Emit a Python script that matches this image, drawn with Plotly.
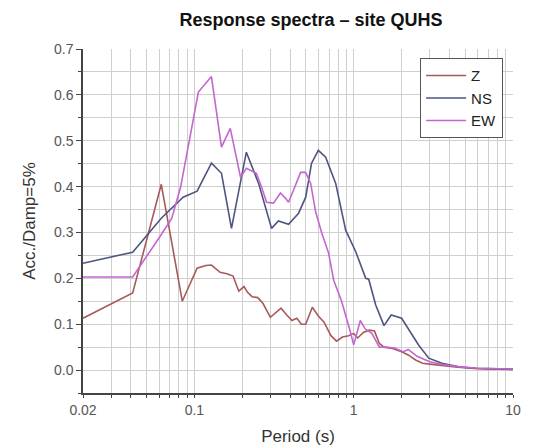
import plotly.graph_objects as go

# Periods (s) and spectral values
z_period = [0.02, 0.041, 0.062, 0.084, 0.104, 0.118, 0.128, 0.145, 0.16, 0.175, 0.19, 0.205,
            0.215, 0.23, 0.25, 0.27, 0.3, 0.325, 0.35, 0.38, 0.41, 0.44, 0.47, 0.5, 0.55,
            0.6, 0.65, 0.72, 0.78, 0.85, 0.93, 1.0, 1.06, 1.15, 1.25, 1.35, 1.45, 1.55,
            1.75, 2.0, 2.2, 2.45, 2.7, 3.0, 3.6, 4.5, 6.0, 8.0, 10.0]
z_acc = [0.113, 0.168, 0.405, 0.15, 0.222, 0.228, 0.229, 0.213, 0.21, 0.205, 0.172, 0.182,
         0.17, 0.16, 0.158, 0.145, 0.115, 0.125, 0.135, 0.12, 0.108, 0.113, 0.1, 0.1, 0.137,
         0.118, 0.105, 0.075, 0.063, 0.072, 0.075, 0.08, 0.07, 0.082, 0.087, 0.085, 0.058, 0.05,
         0.047, 0.04, 0.033, 0.022, 0.015, 0.013, 0.01, 0.006, 0.003, 0.002, 0.001]

ns_period = [0.02, 0.041, 0.062, 0.085, 0.104, 0.128, 0.148, 0.171, 0.212, 0.253, 0.305,
             0.337, 0.39, 0.451, 0.5, 0.544, 0.6, 0.667, 0.771, 0.891, 1.03, 1.19, 1.243,
             1.375, 1.55, 1.72, 2.0, 2.22, 2.56, 2.96, 3.58, 4.57, 5.85, 10.0]
ns_acc = [0.233, 0.257, 0.331, 0.377, 0.39, 0.451, 0.429, 0.309, 0.475, 0.407, 0.309,
          0.325, 0.318, 0.342, 0.377, 0.451, 0.479, 0.464, 0.407, 0.305, 0.258, 0.2, 0.198,
          0.142, 0.097, 0.12, 0.113, 0.087, 0.054, 0.026, 0.015, 0.007, 0.004, 0.002]

ew_period = [0.02, 0.041, 0.06, 0.072, 0.082, 0.106, 0.128, 0.148, 0.168, 0.195, 0.212,
             0.245, 0.264, 0.284, 0.314, 0.347, 0.373, 0.39, 0.419, 0.464, 0.499, 0.537,
             0.577, 0.629, 0.696, 0.749, 0.84, 0.9, 0.95, 1.0, 1.05, 1.1, 1.18, 1.3, 1.45,
             1.6, 1.8, 2.05, 2.2, 2.5, 3.0, 3.6, 4.6, 6.0, 10.0]
ew_acc = [0.203, 0.203, 0.288, 0.33, 0.399, 0.606, 0.64, 0.486, 0.527, 0.42, 0.44,
          0.429, 0.399, 0.366, 0.364, 0.386, 0.375, 0.366, 0.392, 0.431, 0.431, 0.407,
          0.345, 0.3, 0.255, 0.196, 0.15, 0.115, 0.085, 0.055, 0.08, 0.108, 0.09, 0.08, 0.05,
          0.05, 0.048, 0.04, 0.045, 0.03, 0.018, 0.012, 0.007, 0.004, 0.002]

x_tick_vals = [0.02, 0.03, 0.04, 0.05, 0.06, 0.07, 0.08, 0.09,
               0.1, 0.2, 0.3, 0.4, 0.5, 0.6, 0.7, 0.8, 0.9,
               1, 2, 3, 4, 5, 6, 7, 8, 9, 10]
x_tick_labels = {0.02: "0.02", 0.1: "0.1", 1: "1", 10: "10"}

series = [
    ("Z", z_period, z_acc, "#a85a5a"),
    ("NS", ns_period, ns_acc, "#4d5580"),
    ("EW", ew_period, ew_acc, "#c466d0"),
]

fig = go.Figure()
for name, xs, ys, col in series:
    fig.add_trace(go.Scatter(x=xs, y=ys, mode="lines", name=name,
                             line=dict(color=col, width=1.6)))

font_family = "Liberation Sans, Arial, sans-serif"
fig.update_layout(
    width=535, height=446,
    margin=dict(l=83, r=22, t=49, b=53),
    paper_bgcolor="white", plot_bgcolor="white",
    font=dict(family=font_family, color="#333"),
    title=dict(text="<b>Response spectra – site QUHS</b>", x=311/535, xanchor="center",
               xref="container", y=1 - 20/446, yanchor="middle",
               font=dict(size=18, color="#111")),
    legend=dict(x=0.977, y=0.973, xanchor="right", yanchor="top",
                bgcolor="white", bordercolor="#555", borderwidth=1,
                font=dict(size=15, color="#222"), tracegroupgap=0,
                itemwidth=40),
    showlegend=True,
)
fig.update_xaxes(
    type="log", range=[-1.69897, 1.0],
    tickmode="array", tickvals=x_tick_vals,
    ticktext=[x_tick_labels.get(v, "") for v in x_tick_vals],
    showgrid=True, gridcolor="#cfcfcf", gridwidth=1,
    showline=True, linecolor="#444", linewidth=1.5,
    ticks="outside", ticklen=3, tickcolor="#444",
    tickfont=dict(size=14, color="#555"),
    title=dict(text="Period (s)", font=dict(size=17, color="#333"), standoff=15),
    zeroline=False, automargin=False,
)
fig.update_yaxes(
    range=[-0.05, 0.7], dtick=0.1, tick0=0, tickformat=".1f",
    showgrid=True, gridcolor="#cfcfcf", gridwidth=1,
    minor=dict(dtick=0.05, tick0=0, showgrid=True, gridcolor="#cfcfcf",
               ticks="outside", ticklen=3, tickcolor="#444"),
    showline=True, linecolor="#444", linewidth=1.5,
    ticks="outside", ticklen=5, tickcolor="#444",
    tickfont=dict(size=14, color="#555"),
    title=dict(text="Acc./Damp=5%", font=dict(size=17, color="#333"), standoff=14),
    zeroline=False, automargin=False,
)

fig.write_html("out.html")
